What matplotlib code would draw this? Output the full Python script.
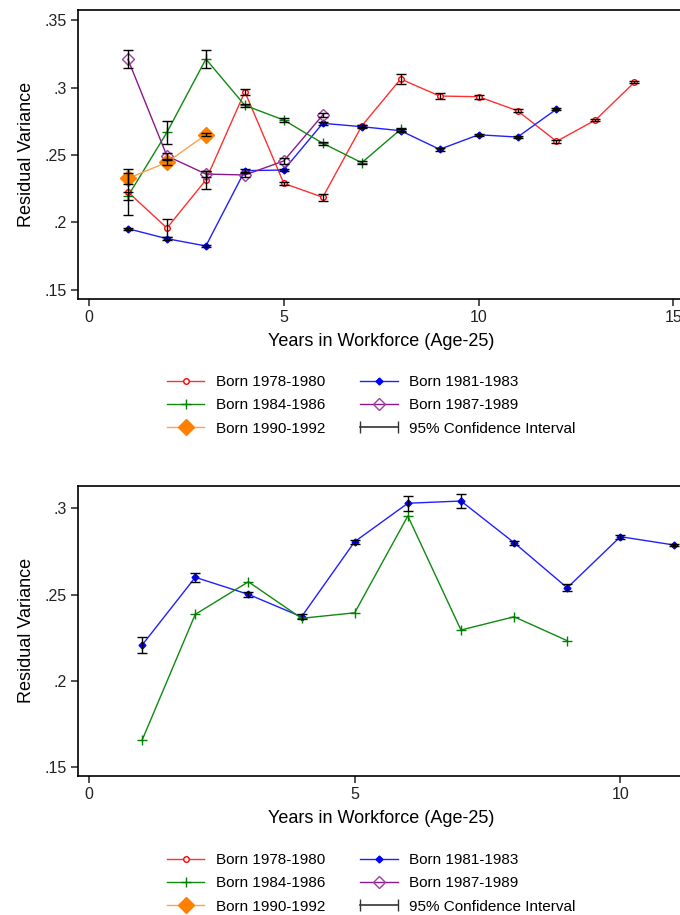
import numpy as np
import matplotlib
matplotlib.use('Agg')
import matplotlib.pyplot as plt
from matplotlib.lines import Line2D
from matplotlib.legend_handler import HandlerBase

plt.rcParams['font.family'] = ['Liberation Sans', 'DejaVu Sans']

# ---- data: top panel (residual variance by cohort) ----
yrs_7880 = [1, 2, 3, 4, 5, 6, 7, 8, 9, 10, 11, 12, 13, 14]
var_7880 = [0.2226, 0.1959, 0.2315, 0.2969, 0.2290, 0.2187, 0.2715, 0.3063,
            0.2937, 0.2932, 0.2828, 0.2601, 0.2759, 0.3039]
ci_7880 = [0.0167, 0.0065, 0.0065, 0.0021, 0.0010, 0.0025, 0.0010, 0.0040,
           0.0025, 0.0015, 0.0012, 0.0010, 0.0008, 0.0008]

yrs_8183 = [1, 2, 3, 4, 5, 6, 7, 8, 9, 10, 11, 12]
var_8183 = [0.1954, 0.1880, 0.1826, 0.2384, 0.2389, 0.2735, 0.2710, 0.2680,
            0.2542, 0.2650, 0.2633, 0.2840]
ci_8183 = [0.0008, 0.0010, 0.0008, 0.0010, 0.0010, 0.0010, 0.0010, 0.0010,
           0.0010, 0.0008, 0.0008, 0.0008]

yrs_8486 = [1, 2, 3, 4, 5, 6, 7, 8]
var_8486 = [0.2196, 0.2668, 0.3211, 0.2868, 0.2759, 0.2587, 0.2443, 0.2690]
ci_8486 = [0.0030, 0.0083, 0.0068, 0.0010, 0.0012, 0.0010, 0.0012, 0.0012]

yrs_8789 = [1, 2, 3, 4, 5, 6]
var_8789 = [0.3209, 0.2493, 0.2359, 0.2352, 0.2456, 0.2796]
ci_8789 = [0.0066, 0.0025, 0.0020, 0.0015, 0.0020, 0.0015]

yrs_9092 = [1, 2, 3]
var_9092 = [0.2327, 0.2446, 0.2650]
ci_9092 = [0.0040, 0.0020, 0.0010]

# ---- data: bottom panel ----
yrs_b8183 = [1, 2, 3, 4, 5, 6, 7, 8, 9, 10, 11]
var_b8183 = [0.2207, 0.2600, 0.2501, 0.2371, 0.2807, 0.3030, 0.3043, 0.2801,
             0.2539, 0.2836, 0.2788]
ci_b8183 = [0.0044, 0.0025, 0.0015, 0.0015, 0.0012, 0.0044, 0.0039, 0.0012,
            0.0020, 0.0012, 0.0008]

yrs_b8486 = [1, 2, 3, 4, 5, 6, 7, 8, 9]
var_b8486 = [0.1655, 0.2385, 0.2574, 0.2362, 0.2394, 0.2956, 0.2294, 0.2371,
             0.2232]

top_yticks = [0.15, 0.2, 0.25, 0.3, 0.35]
top_ylabels = ['.15', '.2', '.25', '.3', '.35']
bot_yticks = [0.15, 0.2, 0.25, 0.3]
bot_ylabels = ['.15', '.2', '.25', '.3']
top_xticks = [0, 5, 10, 15]
bot_xticks = [0, 5, 10]

cohorts = ['Born 1978-1980', 'Born 1981-1983', 'Born 1984-1986',
           'Born 1987-1989', 'Born 1990-1992']

# series styles (line colour, marker, marker size, face colour, edge colour)
styles = {
    'Born 1978-1980': dict(color='#ff3030', marker='o', ms=4, mfc='white', mec='#ff0000'),
    'Born 1981-1983': dict(color='#2020ff', marker='D', ms=3.5, mfc='#0000ff', mec='#0000ff'),
    'Born 1984-1986': dict(color='#108a10', marker='+', ms=7, mfc='#008000', mec='#008000'),
    'Born 1987-1989': dict(color='#8a1a8a', marker='D', ms=6.5, mfc='none', mec='#a040a0'),
    'Born 1990-1992': dict(color='#ffa050', marker='D', ms=8, mfc='#ff8000', mec='#ff8000'),
}


class CIHandler(HandlerBase):
    # legend key for the CI: horizontal line with end caps
    def create_artists(self, legend, orig_handle, xdescent, ydescent,
                       width, height, fontsize, trans):
        y = height / 2 - ydescent
        ln = Line2D([-xdescent, width - xdescent], [y, y], color='#333333',
                    lw=1.2, marker='|', markersize=8, transform=trans)
        return [ln]


def draw_series(ax, x, y, ci, name):
    st = styles[name]
    ax.plot(x, y, '-', color=st['color'], lw=1, marker=st['marker'],
            ms=st['ms'], mfc=st['mfc'], mec=st['mec'], mew=1, zorder=2)
    if ci is not None:
        ax.errorbar(x, y, yerr=ci, fmt='none', ecolor='black', elinewidth=1,
                    capsize=3.5, capthick=1, zorder=3)


def style_axes(ax, xlim, ylim, xticks, yticks, ylabels):
    ax.set_xlim(xlim)
    ax.set_ylim(ylim)
    ax.set_xticks(xticks)
    ax.set_yticks(yticks)
    ax.set_yticklabels(ylabels)
    ax.spines['right'].set_visible(False)
    for s in ['left', 'top', 'bottom']:
        ax.spines[s].set_linewidth(1.2)
    ax.tick_params(direction='out', length=5, width=1.1, labelsize=11.5,
                   colors='#222222', pad=3)
    ax.set_xlabel('Years in Workforce (Age-25)', fontsize=13, labelpad=6)
    # the box runs off the right edge, so centre the label on the visible part
    ax.xaxis.label.set_x(0.469)
    ax.set_ylabel('Residual Variance', fontsize=13, labelpad=7)


fig = plt.figure(figsize=(6.8, 9.15), dpi=100)

# ---- top panel ----
ax1 = fig.add_axes([0.1147, 0.6732, 0.95, 0.3158])
draw_series(ax1, yrs_7880, var_7880, ci_7880, 'Born 1978-1980')
draw_series(ax1, yrs_8183, var_8183, ci_8183, 'Born 1981-1983')
draw_series(ax1, yrs_8486, var_8486, ci_8486, 'Born 1984-1986')
draw_series(ax1, yrs_8789, var_8789, ci_8789, 'Born 1987-1989')
draw_series(ax1, yrs_9092, var_9092, ci_9092, 'Born 1990-1992')
style_axes(ax1, (-0.283, 16.3), (0.1433, 0.3574),
           top_xticks, top_yticks, top_ylabels)

# ---- bottom panel ----
ax2 = fig.add_axes([0.1147, 0.1522, 0.95, 0.317])
draw_series(ax2, yrs_b8183, var_b8183, ci_b8183, 'Born 1981-1983')
draw_series(ax2, yrs_b8486, var_b8486, None, 'Born 1984-1986')
style_axes(ax2, (-0.207, 11.95), (0.1448, 0.3132),
           bot_xticks, bot_yticks, bot_ylabels)

# ---- legends (same keys under both panels) ----
handles = {}
for name in cohorts:
    st = styles[name]
    handles[name] = Line2D([], [], color=st['color'], lw=1, marker=st['marker'],
                           ms=st['ms'], mfc=st['mfc'], mec=st['mec'], mew=1)
ci_handle = object()
order = ['Born 1978-1980', 'Born 1984-1986', 'Born 1990-1992',
         'Born 1981-1983', 'Born 1987-1989']
leg_handles = [handles[n] for n in order] + [ci_handle]
leg_labels = order + ['95% Confidence Interval']

for ycen in [0.557, 0.0345]:
    fig.legend(leg_handles, leg_labels, loc='center', bbox_to_anchor=(0.546, ycen),
               ncol=2, frameon=False, fontsize=11, numpoints=1,
               handlelength=2.45, handletextpad=0.75, columnspacing=2.3,
               labelspacing=0.6, borderpad=0,
               handler_map={ci_handle: CIHandler()})

fig.savefig('out.png', dpi=100)
